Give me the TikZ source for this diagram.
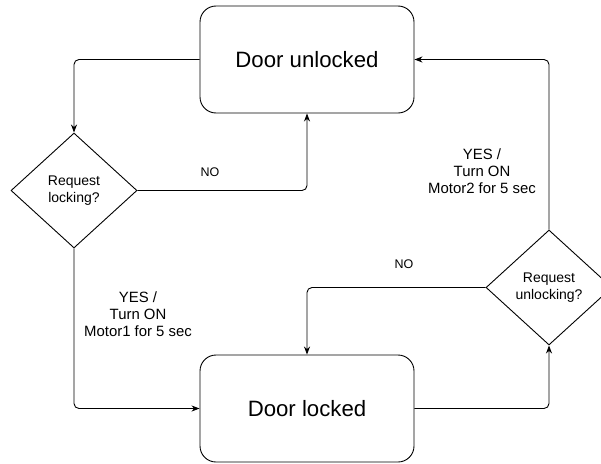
\documentclass[tikz,border=0pt]{standalone}
\usepackage{fontspec}
\setmainfont{Liberation Sans}
\usetikzlibrary{shapes.geometric,arrows.meta}
\begin{document}
\begin{tikzpicture}[x=1pt,y=-1pt,
  state/.style={draw,rounded corners=16pt,minimum width=214pt,minimum height=107pt,inner sep=0pt,line width=0.9pt,font=\fontsize{22.2}{25}\selectfont},
  decision/.style={draw,diamond,minimum width=126pt,minimum height=115pt,inner sep=0pt,line width=0.9pt,align=center,font=\fontsize{14}{17}\selectfont},
  conn/.style={draw,line width=0.9pt,rounded corners=5pt,-{Stealth[length=8pt,width=6pt,inset=2.5pt]}},
  lbl/.style={align=center,font=\fontsize{14.9}{17}\selectfont},
  nolbl/.style={font=\fontsize{12.5}{14}\selectfont}]
\useasboundingbox (0,0) rectangle (601,463);
\clip (0,0) rectangle (601,463);
\node[state] (U) at (307,59.5) {Door unlocked};
\node[state] (L) at (307,408.5) {Door locked};
\node[decision] (D1) at (74,190.5) {Request\\locking?};
\node[decision] (D2) at (549,287.5) {Request\\unlocking?};
\coordinate (a1) at (74,59.5);
\coordinate (a2) at (307,190.5);
\coordinate (a3) at (74,408.5);
\coordinate (a4) at (549,408.5);
\coordinate (a5) at (549,59.5);
\coordinate (a6) at (307,287.5);
\path[conn] (U.west) -- (a1) -- (D1.north);
\path[conn] (D1.east) -- (a2) -- (U.south);
\path[conn] (D1.south) -- (a3) -- (L.west);
\path[conn] (L.east) -- (a4) -- (D2.south);
\path[conn] (D2.north) -- (a5) -- (U.east);
\path[conn] (D2.west) -- (a6) -- (L.north);
\node[nolbl] (n1) at (210,172) {NO};
\node[nolbl] (n2) at (404,264) {NO};
\node[lbl] (y1) at (138,314) {YES /\\Turn ON\\Motor1 for 5 sec};
\node[lbl] (y2) at (482,171) {YES /\\Turn ON\\Motor2 for 5 sec};
\end{tikzpicture}
\end{document}
